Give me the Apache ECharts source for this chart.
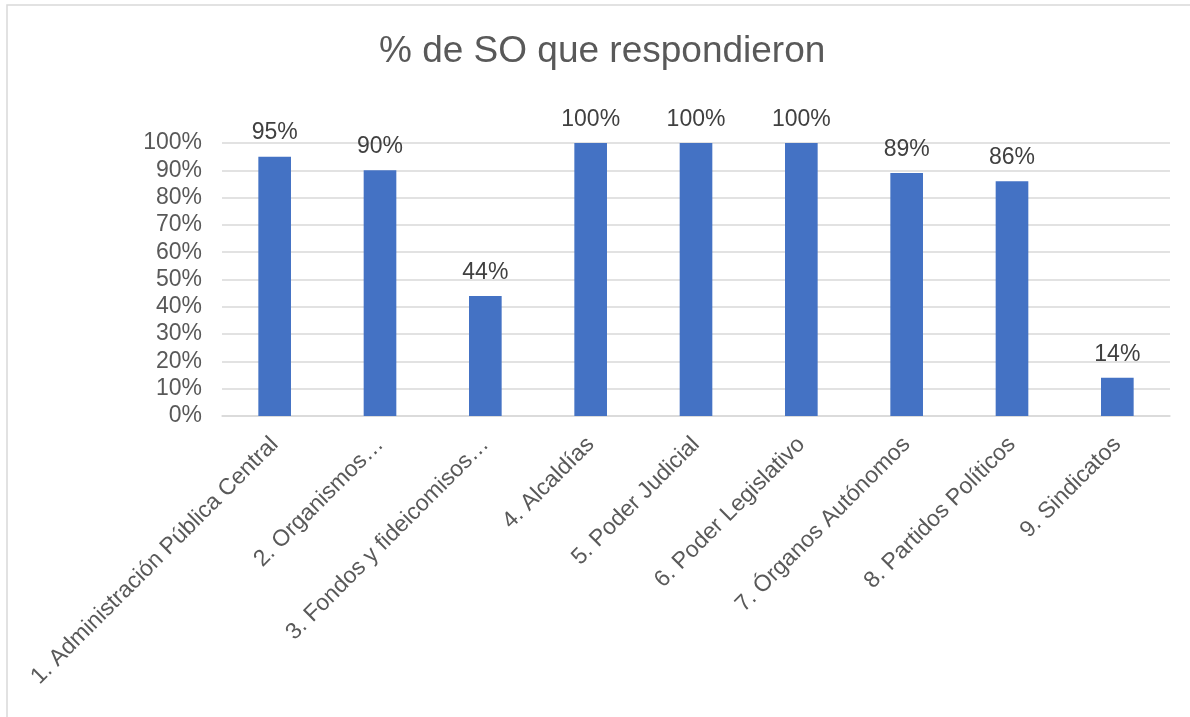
<!DOCTYPE html>
<html>
<head>
<meta charset="utf-8">
<script src="https://cdn.jsdelivr.net/npm/echarts@6/dist/echarts.min.js"></script>
<style>
html,body{margin:0;padding:0;background:#fff;}
#chart{width:1190px;height:717px;}
</style>
</head>
<body>
<div id="chart"></div>
<script>
var titleText = '% de SO que respondieron';
var categories = [
  '1. Administración Pública Central',
  '2. Organismos…',
  '3. Fondos y fideicomisos…',
  '4. Alcaldías',
  '5. Poder Judicial',
  '6. Poder Legislativo',
  '7. Órganos Autónomos',
  '8. Partidos Políticos',
  '9. Sindicatos'
];
var values = [95, 90, 44, 100, 100, 100, 89, 86, 14];
var yTicks = [0, 10, 20, 30, 40, 50, 60, 70, 80, 90, 100];

var chart = echarts.init(document.getElementById('chart'), null, {renderer: 'canvas'});
var font = 'Liberation Sans, Arial, sans-serif';
chart.setOption({
  animation: false,
  backgroundColor: '#ffffff',
  graphic: [{
    type: 'rect',
    shape: {x: 7, y: 5, width: 1250, height: 800},
    style: {fill: 'none', stroke: '#d9d9d9', lineWidth: 1.5},
    silent: true
  }],
  title: {
    text: titleText,
    left: 374,
    top: 28,
    textStyle: {fontFamily: font, fontSize: 37, fontWeight: 'normal', color: '#595959'}
  },
  grid: {left: 222, right: 20, top: 143, bottom: 301, containLabel: false},
  xAxis: {
    type: 'category',
    data: categories,
    axisLine: {show: true, lineStyle: {color: '#d9d9d9', width: 1.5}},
    axisTick: {show: false},
    axisLabel: {
      interval: 0,
      rotate: 45,
      margin: 25,
      fontFamily: font,
      fontSize: 23,
      color: '#595959'
    }
  },
  yAxis: {
    type: 'value',
    min: yTicks[0],
    max: yTicks[yTicks.length - 1],
    interval: 10,
    axisLine: {show: false},
    axisTick: {show: false},
    splitLine: {lineStyle: {color: '#d9d9d9', width: 1.5}},
    axisLabel: {
      margin: 20,
      fontFamily: font,
      fontSize: 23,
      color: '#595959',
      formatter: function (v) { return v + '%'; }
    }
  },
  series: [{
    type: 'bar',
    data: values,
    barWidth: '31%',
    itemStyle: {color: '#4472c4'},
    label: {
      show: true,
      position: 'top',
      distance: 12,
      fontFamily: font,
      fontSize: 23,
      color: '#404040',
      formatter: function (p) { return Math.round(p.value) + '%'; }
    }
  }]
});
</script>
</body>
</html>
